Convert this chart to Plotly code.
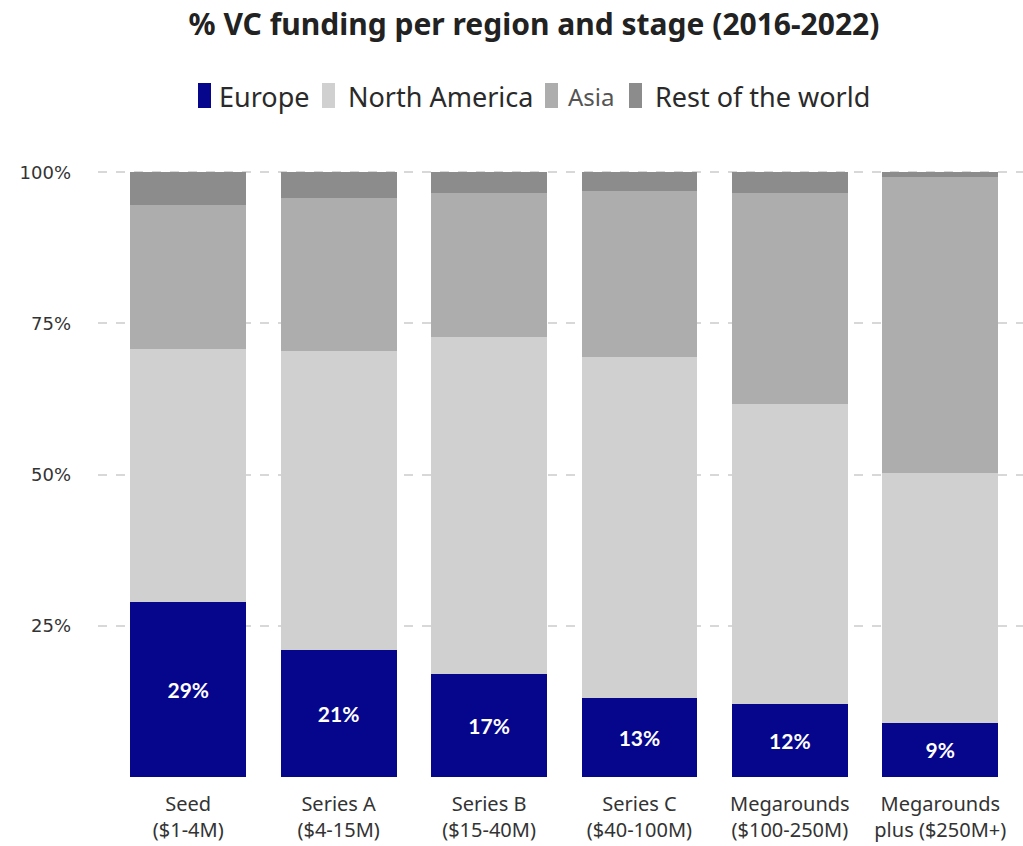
import plotly.graph_objects as go

# Funding stages (two-line axis labels)
stages = [
    "Seed<br>($1-4M)",
    "Series A<br>($4-15M)",
    "Series B<br>($15-40M)",
    "Series C<br>($40-100M)",
    "Megarounds<br>($100-250M)",
    "Megarounds<br>plus ($250M+)",
]

# Share of VC funding per region (%)
europe = [29, 21, 17, 13, 12, 9]
north_america = [41.7, 49.4, 55.8, 56.4, 49.6, 41.2]
asia = [23.8, 25.3, 23.7, 27.5, 34.9, 49.0]
rest_of_world = [5.5, 4.3, 3.5, 3.1, 3.5, 0.8]

regions = ["Europe", "North America", "Asia", "Rest of the world"]
colors = ["#06068c", "#d0d0d0", "#adadad", "#8c8c8c"]

y_ticks = [25, 50, 75, 100]
y_tick_text = ["25%", "50%", "75%", "100%"]

FONT = "Noto Sans"
BAR_W = 0.77

W, H = 1023, 846
M_L, M_R, M_T, M_B = 98, 0, 171, 69


def px_x(p):
    """Pixel column -> paper x."""
    return (p - M_L) / (W - M_L - M_R)


def px_y(p):
    """Pixel row -> paper y."""
    return (H - M_B - p) / (H - M_T - M_B)


fig = go.Figure()
series = [europe, north_america, asia, rest_of_world]
for name, vals, col in zip(regions, series, colors):
    kw = {}
    if name == "Europe":
        kw = dict(
            text=[f"{v}%" for v in vals], textposition="inside",
            insidetextanchor="middle",
            textfont=dict(color="white", size=21, family="Lato", weight="bold"),
        )
    fig.add_trace(go.Bar(x=stages, y=vals, name=name, marker_color=col,
                         width=BAR_W, marker_line_width=0, hoverinfo="skip",
                         **kw))

# Legend drawn as tall swatches with labels
legend_swatch_x = [198, 322, 545, 629]
legend_text_x = [217, 346, 566, 653]
shapes = []
annotations = []
for name, col, sx, tx in zip(regions, colors, legend_swatch_x, legend_text_x):
    shapes.append(dict(
        type="rect", xref="paper", yref="paper",
        x0=px_x(sx), x1=px_x(sx + 13), y0=px_y(108), y1=px_y(83),
        fillcolor=col, line_width=0,
    ))
    small = name == "Asia"
    annotations.append(dict(
        text=name, xref="paper", yref="paper",
        x=px_x(tx), y=px_y(97), xanchor="left", yanchor="middle",
        showarrow=False,
        font=dict(family=FONT, size=24 if small else 27,
                  color="#555555" if small else "#2a2a2a"),
    ))

fig.update_layout(
    barmode="stack",
    width=W, height=H,
    paper_bgcolor="white", plot_bgcolor="white",
    margin=dict(l=M_L, r=M_R, t=M_T, b=M_B),
    font=dict(family=FONT, color="#333333"),
    showlegend=False,
    title=dict(
        text="<b>% VC funding per region and stage (2016-2022)</b>",
        x=px_x(534), xref="paper", xanchor="center",
        y=1 - 24 / H, yanchor="middle",
        font=dict(size=30, color="#222222", family=FONT),
    ),
    shapes=shapes,
    annotations=annotations,
    xaxis=dict(
        range=[-0.6, 5.55], showgrid=False, zeroline=False, showline=False,
        tickfont=dict(size=20, color="#333333", family=FONT),
        ticks="", ticklabelstandoff=13,
    ),
    yaxis=dict(
        range=[0, 100.2], tickvals=y_ticks, ticktext=y_tick_text,
        showgrid=True, gridcolor="#d8d8d8", griddash="dash", gridwidth=1.5,
        zeroline=False, showline=False,
        tickfont=dict(size=18, color="#333333", family="DejaVu Sans"),
        ticklabelstandoff=26,
    ),
)

fig.write_html("out.html")
